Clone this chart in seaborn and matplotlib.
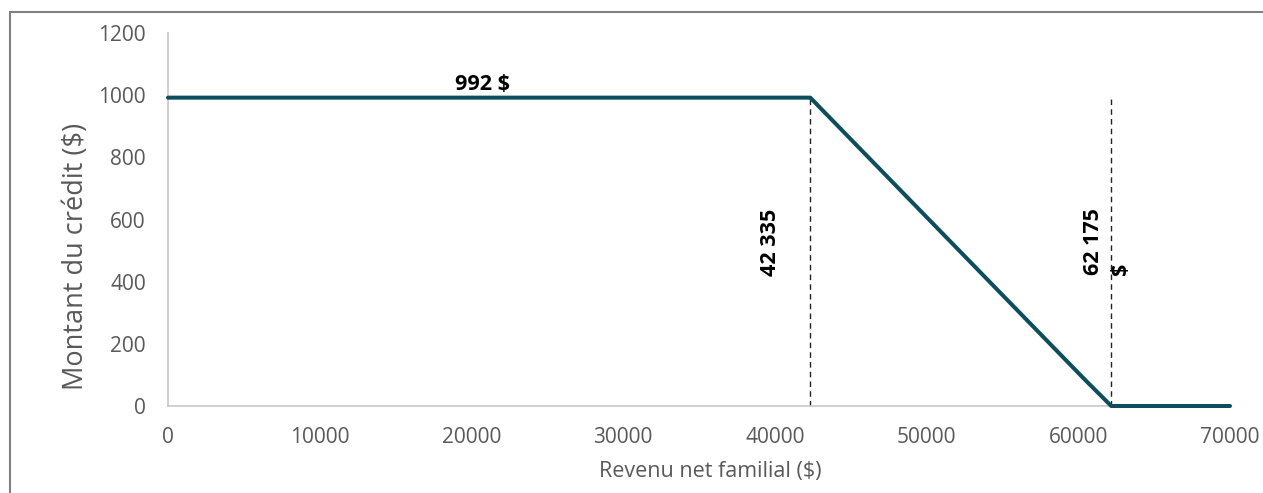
import matplotlib
matplotlib.use("Agg")
import matplotlib.pyplot as plt
import pandas as pd
import seaborn as sns
from matplotlib.patches import Rectangle

# data
revenu = [0, 42335, 60450, 62175, 70000]
credit = [992, 992, 84, 0, 0]
seuils = [42335, 62175]
seuil_labels = ["42 335", "62 175\n$"]
credit_max = 992

df = pd.DataFrame({"revenu": revenu, "credit": credit})

sns.set_theme(style="white")
plt.rcParams["font.family"] = ["Open Sans", "DejaVu Sans"]

line_color = "#0d4e5c"
grey = "#595959"

fig = plt.figure(figsize=(12.63, 4.93), dpi=100)
ax = fig.add_axes([168 / 1263, 1 - 406 / 493, (1230 - 168) / 1263, (406 - 33) / 493])

sns.lineplot(data=df, x="revenu", y="credit", ax=ax, color=line_color,
             linewidth=2.9, clip_on=False, zorder=3)

for s in seuils:
    ax.vlines(s, 0, credit_max, colors="#222222", linestyles=(0, (4, 3)), linewidth=1)

bold = dict(fontsize=15.5, fontweight="bold", color="black")
ax.text(20700, 1035, f"{credit_max} $", ha="center", va="center", **bold)
ax.text(39680, 528, seuil_labels[0], rotation=90, ha="center", va="center", **bold)
ax.text(61900, 530, seuil_labels[1], rotation=90, ha="center", va="center",
        multialignment="left", linespacing=1.35, **bold)

ax.set_xlim(0, 70000)
ax.set_ylim(0, 1200)
ax.set_xticks(range(0, 70001, 10000))
ax.set_yticks(range(0, 1201, 200))
ax.tick_params(axis="x", length=0, labelsize=15, colors=grey, pad=15)
ax.tick_params(axis="y", length=0, labelsize=15, colors=grey, pad=16)
ax.set_xlabel("Revenu net familial ($)", fontsize=15.5, color=grey)
ax.set_ylabel("Montant du crédit ($)", fontsize=19.5, color=grey)
ax.xaxis.set_label_coords(0.511, -0.148)
ax.yaxis.set_label_coords(-0.073, 0.402)

for side in ["top", "right"]:
    ax.spines[side].set_visible(False)
for side in ["left", "bottom"]:
    ax.spines[side].set_color("#c8c8c8")
    ax.spines[side].set_linewidth(1.2)

# outer frame, cut at right and bottom like the source
fig.patches.append(Rectangle((10 / 1263, -0.1), 1.2, 1.1 - 12 / 493,
                             transform=fig.transFigure, fill=False,
                             edgecolor="#808080", linewidth=1.5))

fig.savefig("out.png", dpi=100)
